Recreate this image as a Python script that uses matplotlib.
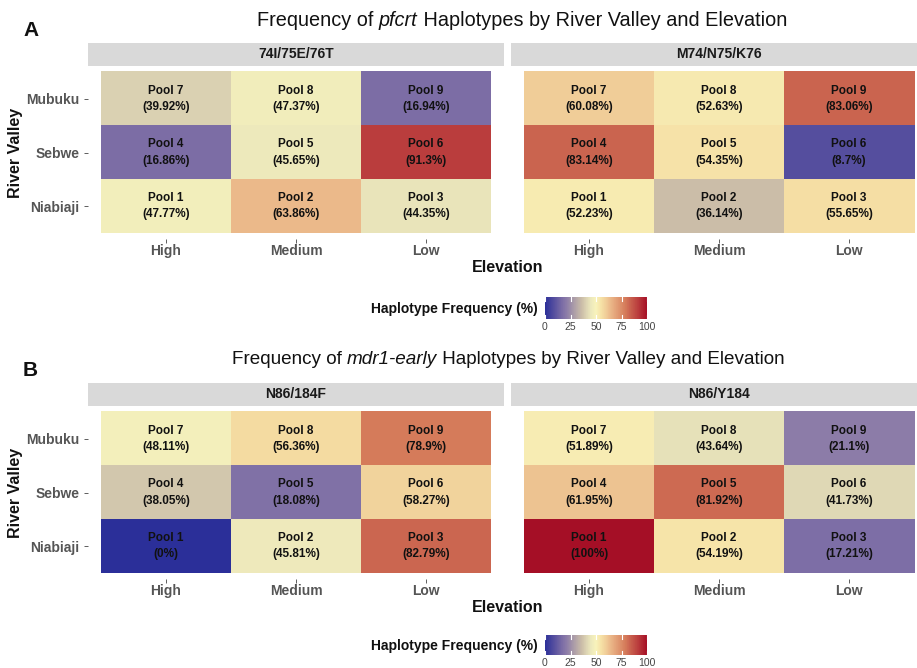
import numpy as np
import matplotlib
matplotlib.use("Agg")
import matplotlib.pyplot as plt
from matplotlib.colors import LinearSegmentedColormap, Normalize
from matplotlib.colorbar import ColorbarBase

plt.rcParams["font.family"] = ["Liberation Sans", "DejaVu Sans"]

# ---- data -------------------------------------------------------------
valleys = ["Niabiaji", "Sebwe", "Mubuku"]          # bottom -> top
elevations = ["High", "Medium", "Low"]
pools = [[1, 2, 3], [4, 5, 6], [7, 8, 9]]

pfcrt_74I_75E_76T = [[47.77, 63.86, 44.35],
                     [16.86, 45.65, 91.3],
                     [39.92, 47.37, 16.94]]
pfcrt_M74_N75_K76 = [[52.23, 36.14, 55.65],
                     [83.14, 54.35, 8.7],
                     [60.08, 52.63, 83.06]]
mdr1_N86_184F = [[0, 45.81, 82.79],
                 [38.05, 18.08, 58.27],
                 [48.11, 56.36, 78.9]]
mdr1_N86_Y184 = [[100, 54.19, 17.21],
                 [61.95, 81.92, 41.73],
                 [51.89, 43.64, 21.1]]

legend_ticks = [0, 25, 50, 75, 100]

# ---- colour scale -----------------------------------------------------
stops = [(0.00, "#2B2F99"), (0.09, "#57509F"), (0.17, "#7D6EA6"),
         (0.21, "#8C7CA8"), (0.36, "#CBBDA8"), (0.40, "#DAD1B2"),
         (0.45, "#ECE8BC"), (0.50, "#F8F3BB"), (0.55, "#F6E1A6"),
         (0.60, "#F0CD98"), (0.64, "#EBB98A"), (0.79, "#D57B5A"),
         (0.83, "#CB6550"), (0.91, "#BB3F3E"), (1.00, "#A50F26")]
cmap = LinearSegmentedColormap.from_list("freq", stops)
norm = Normalize(0, 100)

W, H = 917, 668
fig = plt.figure(figsize=(W / 100, H / 100), dpi=100)
fig.patch.set_facecolor("white")


def px_axes(x0, y0, x1, y1):
    return fig.add_axes([x0 / W, 1 - y1 / H, (x1 - x0) / W, (y1 - y0) / H])


def fx(x):
    return x / W


def fy(y):
    return 1 - y / H


def heat(x0, y0, x1, y1, vals, show_y):
    # panel box; tiles leave a 0.1-unit margin like a discrete ggplot scale
    ax = px_axes(x0, y0, x1, y1)
    arr = np.array(vals, dtype=float)
    ax.imshow(arr, cmap=cmap, norm=norm, origin="lower", aspect="auto",
              extent=(-0.5, 2.5, -0.5, 2.5), interpolation="nearest")
    ax.set_xlim(-0.6, 2.6)
    ax.set_ylim(-0.6, 2.6)
    for r in range(3):
        for c in range(3):
            ax.text(c, r + 0.15, f"Pool {pools[r][c]}", ha="center", va="center",
                    fontsize=8.5, fontweight="bold", color="#111111")
            ax.text(c, r - 0.15, f"({arr[r, c]:g}%)", ha="center", va="center",
                    fontsize=8.5, fontweight="bold", color="#111111")
    ax.set_xticks(range(3))
    ax.set_xticklabels(elevations, fontsize=10, fontweight="bold", color="#555555")
    ax.set_yticks(range(3))
    ax.tick_params(axis="both", length=3, width=0.6, color="#444444")
    ax.tick_params(axis="x", pad=1)
    ax.tick_params(axis="y", pad=3)
    if show_y:
        ax.set_yticklabels(valleys, fontsize=10, fontweight="bold", color="#555555")
    else:
        ax.set_yticklabels([])
        ax.tick_params(axis="y", length=0)
    for s in ax.spines.values():
        s.set_visible(False)
    return ax


def strip(x0, y0, x1, y1, label):
    ax = px_axes(x0, y0, x1, y1)
    ax.set_facecolor("#D9D9D9")
    ax.set_xticks([])
    ax.set_yticks([])
    for s in ax.spines.values():
        s.set_visible(False)
    ax.text(0.5, 0.5, label, ha="center", va="center", fontsize=10,
            fontweight="bold", color="#1A1A1A", transform=ax.transAxes)


def title(x_left, y, parts, size):
    renderer = fig.canvas.get_renderer()
    x = x_left
    for txt, style in parts:
        t = fig.text(fx(x), fy(y), txt, fontsize=size, style=style, ha="left",
                     va="center", color="#111111")
        x += t.get_window_extent(renderer).width


def legend(y_bar_top, bar_h):
    cax = px_axes(545, y_bar_top, 647, y_bar_top + bar_h)
    cb = ColorbarBase(cax, cmap=cmap, norm=norm, orientation="horizontal",
                      ticks=legend_ticks)
    cb.outline.set_visible(False)
    cax.tick_params(axis="x", length=0, labelsize=7.5, labelcolor="#444444", pad=2)
    for v in legend_ticks:
        cax.plot([v, v], [0, 0.2], color="white", lw=0.8)
        cax.plot([v, v], [0.8, 1.0], color="white", lw=0.8)
    cax.set_ylim(0, 1)
    fig.text(fx(538), fy(y_bar_top + bar_h / 2 + 1), "Haplotype Frequency (%)",
             ha="right", va="center", fontsize=10, fontweight="bold",
             color="#111111")


def panel(dy, letter, title_left, title_size, title_parts, left_name, left_vals,
          right_name, right_vals, bar_top, bar_h):
    fig.text(fx(23), fy(31 + dy), letter, fontsize=15, fontweight="bold",
             ha="left", va="center", color="#111111")
    title(title_left, 20 + dy, title_parts, title_size)
    strip(88, 43 + dy, 504, 66 + dy, left_name)
    strip(511, 43 + dy, 927, 66 + dy, right_name)
    heat(88, 66.5 + dy, 504, 238.5 + dy, left_vals, True)
    heat(511, 66.5 + dy, 927, 238.5 + dy, right_vals, False)
    fig.text(fx(16), fy(153 + dy), "River Valley", rotation=90, ha="center",
             va="center", fontsize=11.5, fontweight="bold", color="#111111")
    fig.text(fx(508), fy(268 + dy), "Elevation", ha="center", va="center",
             fontsize=11.5, fontweight="bold", color="#111111")
    legend(bar_top, bar_h)


panel(0, "A", 257, 14.3,
      [("Frequency of ", "normal"), ("pfcrt", "italic"),
       (" Haplotypes by River Valley and Elevation", "normal")],
      "74I/75E/76T", pfcrt_74I_75E_76T, "M74/N75/K76", pfcrt_M74_N75_K76,
      297, 22)
panel(340, "B", 232, 13.6,
      [("Frequency of ", "normal"), ("mdr1-early", "italic"),
       (" Haplotypes by River Valley and Elevation", "normal")],
      "N86/184F", mdr1_N86_184F, "N86/Y184", mdr1_N86_Y184,
      635, 20)

fig.savefig("out.png", dpi=100)
